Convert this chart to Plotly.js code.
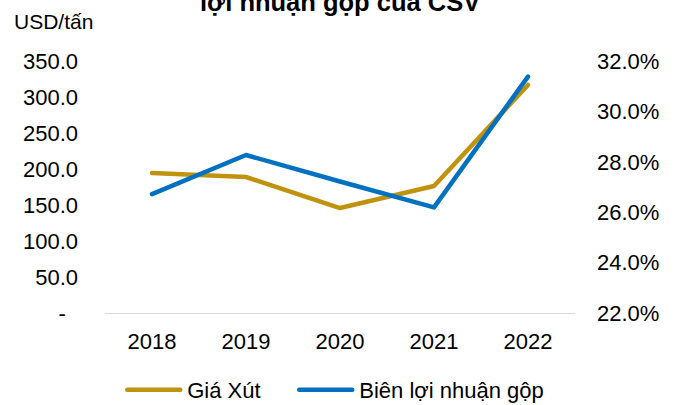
<!DOCTYPE html>
<html><head><meta charset="utf-8">
<script src="https://cdn.plot.ly/plotly-3.0.1.min.js"></script>
<style>body{margin:0;background:#fff}#c{width:680px;height:405px}</style>
</head><body><div id="c"></div>
<script>
const years = ['2018','2019','2020','2021','2022'];
const giaXut = [194.4, 188.9, 145.8, 176.4, 316.7];
const bienLN = [26.72, 28.27, 27.22, 26.19, 31.38];
const leftTicks = [0,50,100,150,200,250,300,350];
const leftTickText = ['-\u00a0\u00a0','50.0','100.0','150.0','200.0','250.0','300.0','350.0'];
const rightTicks = [22,24,26,28,30,32];
const rightTickText = ['22.0%','24.0%','26.0%','28.0%','30.0%','32.0%'];

const F = 'Liberation Sans, Arial, sans-serif';
const data = [
  {x: years, y: giaXut, name: 'Giá Xút', type: 'scatter', mode: 'lines',
   line: {color: '#C0930F', width: 4.5}, yaxis: 'y'},
  {x: years, y: bienLN, name: 'Biên lợi nhuận gộp', type: 'scatter', mode: 'lines',
   line: {color: '#0070C0', width: 4.5}, yaxis: 'y2'}
];
const layout = {
  width: 680, height: 405,
  margin: {l: 105, r: 105, t: 61, b: 92},
  paper_bgcolor: '#fff', plot_bgcolor: '#fff',
  font: {family: F, size: 22, color: '#000'},
  showlegend: true,
  xaxis: {type: 'category', range: [-0.5, 4.5], showline: true, linecolor: '#d9d9d9', linewidth: 1,
          showgrid: false, zeroline: false, ticks: '', ticklabelstandoff: 9,
          tickfont: {family: F, size: 22}},
  yaxis: {range: [0, 350], tickvals: leftTicks, ticktext: leftTickText, showgrid: false,
          zeroline: false, showline: false, ticks: '', ticklabelstandoff: 26,
          tickfont: {family: F, size: 22}},
  yaxis2: {range: [22, 32], tickvals: rightTicks, ticktext: rightTickText, overlaying: 'y',
           side: 'right', showgrid: false, zeroline: false, showline: false, ticks: '',
           ticklabelstandoff: 21, tickfont: {family: F, size: 22}},
  legend: {orientation: 'h', x: 100 / 680, xanchor: 'left', xref: 'container',
           y: 0.037, yanchor: 'middle', yref: 'container', bgcolor: 'rgba(0,0,0,0)',
           font: {family: F, size: 22}, itemwidth: 60, tracegroupgap: 0},
  annotations: [
    {text: '<b>lợi nhuận gộp của CSV</b>', xref: 'paper', yref: 'paper', x: 0.5, y: 1.234,
     xanchor: 'center', yanchor: 'middle', showarrow: false, font: {family: F, size: 25.5}},
    {text: 'USD/tấn', xref: 'paper', yref: 'paper', x: -0.198, y: 1.155,
     xanchor: 'left', yanchor: 'middle', showarrow: false, font: {family: F, size: 21}}
  ]
};
Plotly.newPlot('c', data, layout, {displayModeBar: false, staticPlot: true}).then(function (gd) {
  gd.querySelectorAll('.scatterlayer .js-line').forEach(function (p) {
    p.style.strokeLinecap = 'round';
    p.style.strokeLinejoin = 'round';
  });
  gd.querySelectorAll('.legend [clip-path], .legend').forEach(function (el) {
    el.removeAttribute('clip-path');
  });
  const targets = [127.25, 299.25];
  gd.querySelectorAll('.legend .traces').forEach(function (g, i) {
    const p = g.querySelector('.legendlines path');
    if (!p) return;
    p.setAttribute('d', 'M10,0h53');
    p.style.strokeLinecap = 'round';
    const left = p.getBoundingClientRect().left;
    const m = /translate\(\s*([-\d.e]+)[ ,]+([-\d.e]+)\s*\)/.exec(g.getAttribute('transform') || '');
    if (!m || targets[i] === undefined) return;
    const tx = parseFloat(m[1]) + (targets[i] - left);
    g.setAttribute('transform', 'translate(' + tx + ',' + m[2] + ')');
  });
});
</script></body></html>
